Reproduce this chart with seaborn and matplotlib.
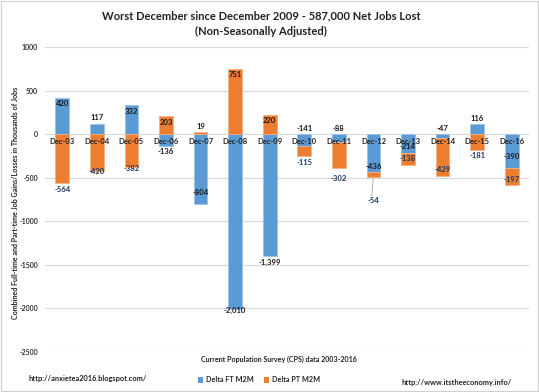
import matplotlib
matplotlib.use("Agg")
import matplotlib.pyplot as plt
import seaborn as sns
import numpy as np
import pandas as pd
from matplotlib.patches import Patch, Rectangle

categories = ["Dec-03", "Dec-04", "Dec-05", "Dec-06", "Dec-07", "Dec-08", "Dec-09",
              "Dec-10", "Dec-11", "Dec-12", "Dec-13", "Dec-14", "Dec-15", "Dec-16"]
ft_values = [420, 117, 332, -136, -804, -2010, -1399, -141, -88, -436, -214, -47, 116, -390]
pt_values = [-564, -420, -382, 203, 19, 751, 220, -115, -302, -54, -138, -429, -181, -197]
ft_labels = ["420", "117", "332", "-136", "-804", "-2,010", "-1,399", "-141", "-88", "-436", "-214", "-47", "116", "-390"]
pt_labels = ["-564", "-420", "-382", "203", "19", "751", "220", "-115", "-302", "-54", "-138", "-429", "-181", "-197"]
yticks = [1000, 500, 0, -500, -1000, -1500, -2000, -2500]

# label placement styles
ft_mode = ["in", "out", "in", "out", "in2", "edge", "out", "zero", "zero", "in", "in", "zero", "out", "in2"]
pt_mode = ["out", "edge", "edge", "in", "out", "in", "in", "out", "out2", "lead", "in", "in", "out", "in"]

BLUE = "#5B9BD5"
ORANGE = "#ED7D31"

sns.set_style("white")
plt.rcParams["font.family"] = ["Lato", "DejaVu Sans"]

fig = plt.figure(figsize=(5.39, 3.92), dpi=100)
ax = fig.add_axes([45/539, 1-352/392, 484/539, 305/392])

ft = np.array(ft_values, dtype=float)
pt = np.array(pt_values, dtype=float)
pt_bottom = np.where(np.sign(pt) == np.sign(ft), ft, 0.0)

df = pd.DataFrame({"cat": categories, "ft": ft, "pt": pt})
sns.barplot(data=df, x="cat", y="ft", color=BLUE, saturation=1, width=0.4,
            edgecolor="#9DC3E6", linewidth=0.6, ax=ax, errorbar=None)
sns.barplot(data=df, x="cat", y="pt", color=ORANGE, saturation=1, width=0.4,
            edgecolor="#F4B183", linewidth=0.6, ax=ax, errorbar=None, bottom=pt_bottom)

ax.set_ylim(-2500, 1000)
ax.set_xlim(-0.5, 13.5)
ax.set_yticks(yticks)
ax.set_yticklabels([str(v) for v in yticks], fontsize=5, fontweight="bold", color="#333333")
ax.tick_params(axis="y", length=0, pad=5)
ax.set_xticks([])
ax.set_xlabel("")
ax.set_ylabel("Combined Full-time and Part-time Job Gains/Losses in Thousands of Jobs",
              fontsize=5.1, fontweight="bold", color="#222222")
ax.yaxis.set_label_coords((19 - 45) / 484, 0.49)
for s in ax.spines.values():
    s.set_visible(False)
ax.grid(axis="y", color="#D9D9D9", linewidth=0.8)
ax.set_axisbelow(True)

px = 3500 / 305.0  # data units per pixel

def label_y(end, sign, mode):
    if mode == "in":
        return end - sign * 6 * px
    if mode == "in2":
        return end - sign * 12 * px
    if mode == "out":
        return end + sign * 6 * px
    if mode == "out2":
        return end + sign * 10 * px
    if mode == "edge":
        return end + sign * 1 * px
    if mode == "zero":
        return 6 * px
    if mode == "lead":
        return end + sign * 24 * px
    return end

for i in range(len(categories)):
    ax.text(i, -7 * px, categories[i], ha="center", va="center", fontsize=5.5,
            fontweight="bold", color="#222222", zorder=5)
    s = 1 if ft[i] >= 0 else -1
    ax.text(i, label_y(ft[i], s, ft_mode[i]), ft_labels[i], ha="center", va="center",
            fontsize=5.5, fontweight="bold", color="#1a1a1a", zorder=5)
    end = pt_bottom[i] + pt[i]
    s = 1 if pt[i] >= 0 else -1
    ypt = label_y(end, s, pt_mode[i])
    col = "#1F3864" if pt[i] < 0 else "#1a1a1a"
    ax.text(i, ypt, pt_labels[i], ha="center", va="center",
            fontsize=5.5, fontweight="bold", color=col, zorder=5)
    if pt_mode[i] == "lead":
        ax.plot([i, i - 0.05], [end, ypt + 5 * px], color="#A6A6A6", linewidth=0.6, zorder=4)

fig.text(261/539, 1-16/392, "Worst December since December 2009 - 587,000 Net Jobs Lost",
         ha="center", va="center", fontsize=8.0, fontweight="bold", color="#222222")
fig.text(261/539, 1-31/392, "(Non-Seasonally Adjusted)",
         ha="center", va="center", fontsize=8.0, fontweight="bold", color="#222222")
fig.text(279/539, 1-359/392, "Current Population Survey (CPS) data 2003-2016",
         ha="center", va="center", fontsize=5.1, fontweight="bold", color="#222222")
fig.text(28/539, 1-378/392, "http://anxietea2016.blogspot.com/",
         ha="left", va="center", fontsize=5.3, fontweight="bold", color="#222222")
fig.text(512/539, 1-382/392, "http://www.itstheeconomy.info/",
         ha="right", va="center", fontsize=5.3, fontweight="bold", color="#222222")

handles = [Patch(facecolor=BLUE, edgecolor="none"), Patch(facecolor=ORANGE, edgecolor="none")]
fig.legend(handles, ["Delta FT M2M", "Delta PT M2M"], loc="center",
           bbox_to_anchor=(259/539, 1-380/392), ncol=2, frameon=False,
           prop={"size": 5.2, "weight": "bold"}, handlelength=0.7, handleheight=0.7,
           columnspacing=1.5, handletextpad=0.4)

fig.patches.append(Rectangle((0.002, 0.002), 0.996, 0.996, transform=fig.transFigure,
                             fill=False, edgecolor="#D0D0D0", linewidth=0.8))

fig.savefig("out.png", dpi=100)
